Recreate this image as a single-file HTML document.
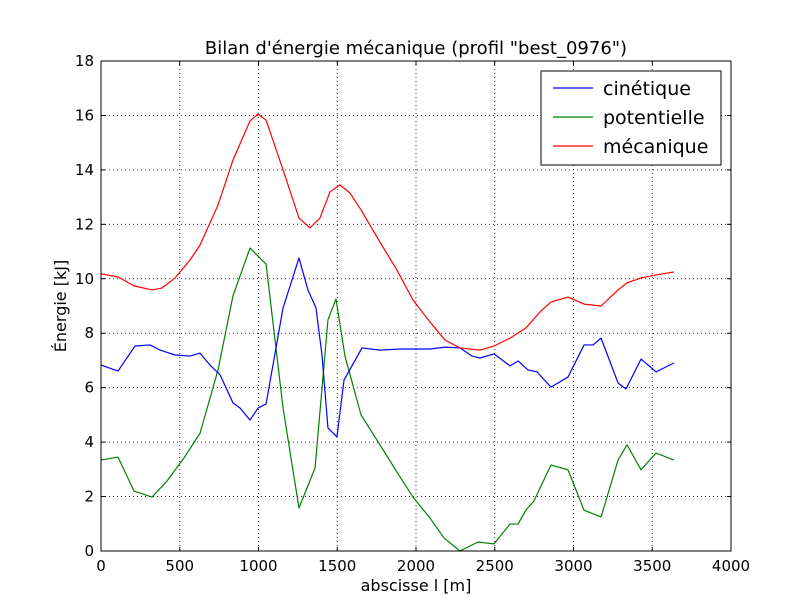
<!DOCTYPE html>
<html><head><meta charset="utf-8"><style>
html,body{margin:0;padding:0;background:#fff;}
svg{display:block;font-family:"DejaVu Sans","Liberation Sans",sans-serif;}
</style></head><body>
<svg id="chart" width="812" height="612" viewBox="0 0 812 612" xmlns="http://www.w3.org/2000/svg"></svg>
<script>
const xTicks=[0,500,1000,1500,2000,2500,3000,3500,4000];
const yTicks=[0,2,4,6,8,10,12,14,16,18];
const kinX=[0,108,216,311,375,470,565,629,692,756,838,883,946,997,1048,1156,1257,1314,1365,1403,1441,1498,1543,1657,1771,1898,1994,2089,2184,2279,2356,2406,2495,2597,2648,2711,2768,2857,2965,3067,3124,3175,3283,3333,3429,3524,3638];
const kinY=[6.83,6.61,7.53,7.57,7.38,7.2,7.16,7.27,6.83,6.47,5.44,5.25,4.81,5.25,5.4,8.93,10.76,9.59,8.93,7.2,4.52,4.19,6.28,7.46,7.38,7.42,7.42,7.42,7.49,7.46,7.16,7.09,7.24,6.8,6.98,6.65,6.58,6.02,6.39,7.57,7.57,7.82,6.17,5.95,7.05,6.58,6.91];
const potX=[0,108,210,324,419,527,629,743,838,946,1048,1156,1257,1359,1441,1492,1549,1651,1771,1879,1981,2089,2178,2279,2394,2495,2597,2648,2698,2749,2857,2965,3067,3175,3283,3340,3429,3524,3638];
const potY=[3.34,3.45,2.2,1.98,2.57,3.42,4.33,6.65,9.37,11.13,10.54,5.25,1.58,3.05,8.49,9.26,7.16,5.0,3.9,2.9,1.98,1.21,0.48,0,0.33,0.26,0.99,0.99,1.5,1.84,3.16,2.98,1.5,1.25,3.34,3.9,2.98,3.6,3.34];
const mecX=[0,108,210,324,387,470,565,629,743,838,946,997,1048,1156,1257,1327,1390,1454,1517,1581,1651,1771,1879,1981,2089,2184,2279,2406,2495,2597,2698,2787,2857,2965,3067,3175,3283,3340,3429,3524,3638];
const mecY=[10.18,10.07,9.74,9.59,9.66,10.03,10.69,11.24,12.71,14.36,15.8,16.05,15.83,14.0,12.23,11.87,12.23,13.19,13.45,13.15,12.53,11.35,10.32,9.22,8.41,7.75,7.46,7.38,7.53,7.82,8.19,8.78,9.15,9.33,9.07,9.0,9.59,9.85,10.03,10.14,10.25];

const L=101,R=731,T=61,B=551;
const sx=v=>L+(v-0)/4000*(R-L);
const sy=v=>B-(v-0)/18*(B-T);
const NS="http://www.w3.org/2000/svg";
const svg=document.getElementById('chart');
function mk(tag,attrs,parent){const e=document.createElementNS(NS,tag);for(const k in attrs)e.setAttribute(k,attrs[k]);(parent||svg).appendChild(e);return e;}

const grid=mk('g',{});


xTicks.forEach(t=>{if(t>0&&t<4000)mk('line',{x1:sx(t),x2:sx(t),y1:T,y2:B,stroke:'#000','stroke-dasharray':'1,3','stroke-width':0.8},grid);});
yTicks.forEach(t=>{if(t>0&&t<18)mk('line',{x1:L,x2:R,y1:sy(t),y2:sy(t),stroke:'#000','stroke-dasharray':'1,3','stroke-width':0.8},grid);});

function series(xs,ys,color,name){
  const p=mk('polyline',{points:xs.map((x,i)=>sx(x)+','+sy(ys[i])).join(' '),fill:'none',stroke:color,'stroke-width':1.2,'stroke-linejoin':'round'});
  
  
}
series(potX,potY,'#008000','potentielle-line');
series(kinX,kinY,'#0000ff','cinetique-line');
series(mecX,mecY,'#ff0000','mecanique-line');

const fr=mk('rect',{x:L,y:T,width:R-L,height:B-T,fill:'none',stroke:'#000','stroke-width':1});



xTicks.forEach(t=>{
  mk('line',{x1:sx(t),x2:sx(t),y1:B,y2:B-4,stroke:'#000'});
  mk('line',{x1:sx(t),x2:sx(t),y1:T,y2:T+4,stroke:'#000'});
  const tx=mk('text',{x:sx(t),y:B+20,'text-anchor':'middle','font-size':15});
  tx.textContent=t;
  
  
});
yTicks.forEach(t=>{
  mk('line',{x1:L,x2:L+4,y1:sy(t),y2:sy(t),stroke:'#000'});
  mk('line',{x1:R,x2:R-4,y1:sy(t),y2:sy(t),stroke:'#000'});
  const tx=mk('text',{x:L-7,y:sy(t)+5,'text-anchor':'end','font-size':15});
  tx.textContent=t;
  
  
});
</script>
<svg style="position:absolute;left:0;top:0" width="812" height="612">
<text x="416" y="54" text-anchor="middle" font-size="18" font-family="DejaVu Sans, Liberation Sans, sans-serif">Bilan d'énergie mécanique (profil "best_0976")</text>
<text x="416" y="591" text-anchor="middle" font-size="16" font-family="DejaVu Sans, Liberation Sans, sans-serif">abscisse l [m]</text>
<text transform="translate(66,306) rotate(-90)" text-anchor="middle" font-size="16" font-family="DejaVu Sans, Liberation Sans, sans-serif">Énergie [kJ]</text>
<g font-family="DejaVu Sans, Liberation Sans, sans-serif" font-size="19">
<rect x="541" y="71" width="180" height="94" fill="#fff" stroke="#000"/>
<line x1="553" x2="593" y1="88" y2="88" stroke="#0000ff" stroke-width="1.2"/>
<text x="603" y="95">cinétique</text>
<line x1="553" x2="593" y1="117" y2="117" stroke="#008000" stroke-width="1.2"/>
<text x="603" y="124">potentielle</text>
<line x1="553" x2="593" y1="146" y2="146" stroke="#ff0000" stroke-width="1.2"/>
<text x="603" y="153">mécanique</text>
</g>
</svg>
</body></html>
